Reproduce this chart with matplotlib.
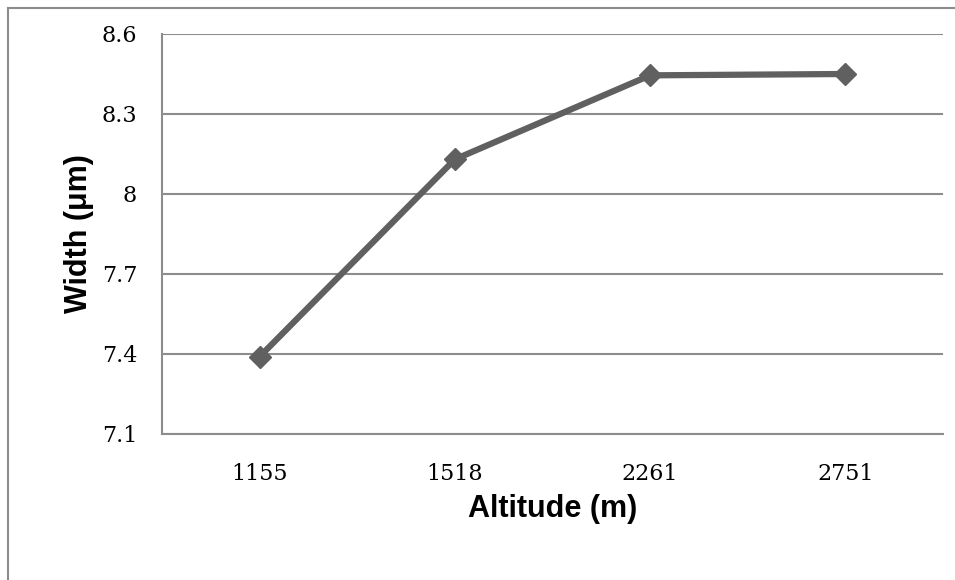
import matplotlib
matplotlib.use("Agg")
import matplotlib.pyplot as plt
from matplotlib.lines import Line2D

altitudes = ["1155", "1518", "2261", "2751"]
widths = [7.39, 8.13, 8.445, 8.45]
yticks = [7.1, 7.4, 7.7, 8.0, 8.3, 8.6]
ytick_labels = ["7.1", "7.4", "7.7", "8", "8.3", "8.6"]

fig = plt.figure(figsize=(9.55, 5.8), dpi=100)
ax = fig.add_axes([162 / 955, 1 - 434 / 580, 781 / 955, 400 / 580])

x = range(len(altitudes))
ax.plot(x, widths, color="#606060", linewidth=4.5, marker="D", markersize=11,
        markeredgecolor="#606060", markerfacecolor="#606060", zorder=3)

ax.set_xlim(-0.5, len(altitudes) - 0.5)
ax.set_ylim(7.1, 8.6)
ax.set_yticks(yticks)
ax.set_yticklabels(ytick_labels)
ax.set_xticks(list(x))
ax.set_xticklabels(altitudes)
ax.tick_params(length=0, labelsize=16)
ax.tick_params(axis="x", pad=21)
ax.tick_params(axis="y", pad=18)
for lab in ax.get_xticklabels() + ax.get_yticklabels():
    lab.set_fontfamily("DejaVu Serif")

ax.yaxis.grid(True, color="#8c8c8c", linewidth=1.5)
ax.set_axisbelow(True)
for s in ["top", "right"]:
    ax.spines[s].set_visible(False)
for s in ["left", "bottom"]:
    ax.spines[s].set_color("#8c8c8c")
    ax.spines[s].set_linewidth(1.5)

ax.set_xlabel("Altitude (m)", fontsize=22, fontweight="bold",
              fontfamily="Liberation Sans")
ax.set_ylabel("Width (μm)", fontsize=22, fontweight="bold",
              fontfamily="Liberation Sans")
ax.xaxis.set_label_coords(0.5, (434 - 494) / 400)
ax.yaxis.set_label_coords((94 - 162) / 781, 0.5)

# outer chart border
bx, by = 7.5 / 955, 1 - 7.5 / 580
fig.add_artist(Line2D([bx, 1], [by, by], color="#8c8c8c", linewidth=1.5, transform=fig.transFigure))
fig.add_artist(Line2D([bx, bx], [0, by], color="#8c8c8c", linewidth=1.5, transform=fig.transFigure))

fig.savefig("out.png", dpi=100)
